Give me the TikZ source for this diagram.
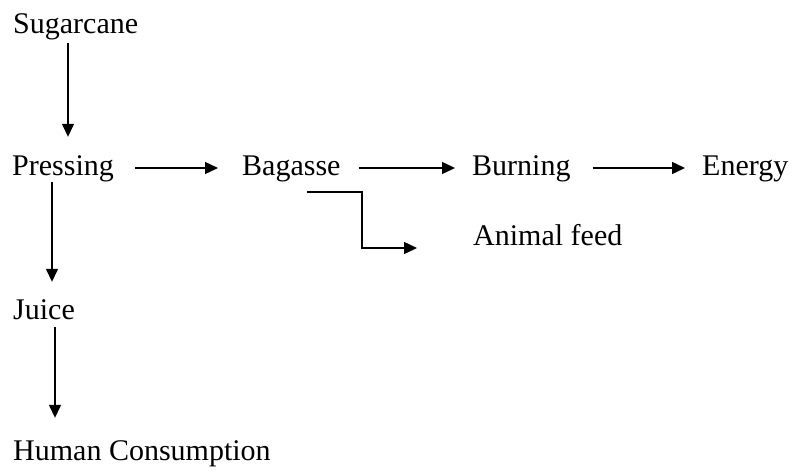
\documentclass[tikz,border=0pt]{standalone}
\usepackage{fontspec}
\setmainfont{Liberation Serif}
\usetikzlibrary{arrows.meta}
\begin{document}
\begin{tikzpicture}[x=1pt,y=-1pt,
  lbl/.style={anchor=base west,inner sep=0pt,text height=20pt,text depth=7pt,
    font=\fontsize{30}{36}\selectfont},
  arr/.style={line width=1.4pt,-{Triangle[length=13pt,width=12pt]}}]
\useasboundingbox (0,0) rectangle (792,471);
\node[lbl] (sugar) at (13,33) {Sugarcane};
\node[lbl] (press) at (12,175) {Pressing};
\node[lbl] (bag) at (242,175) {Bagasse};
\node[lbl] (burn) at (472,175) {Burning};
\node[lbl] (energy) at (702,175) {Energy};
\node[lbl] (feed) at (473,245) {Animal feed};
\node[lbl] (juice) at (13,319) {Juice};
\node[lbl] (human) at (13,460) {Human Consumption};
\coordinate (bagout) at ([xshift=65pt,yshift=-17pt]bag.base west);
\coordinate (feedin) at ([xshift=-56pt,yshift=-3pt]feed.base west);
\draw[arr,shorten <=3pt,shorten >=18pt] ([xshift=55pt]sugar.south west) -- ([xshift=55pt]sugar.south west |- press.north);
\draw[arr,shorten <=21pt,shorten >=24pt] ([yshift=7pt]press.base east) -- ([yshift=7pt]bag.base west);
\draw[arr,shorten <=18pt,shorten >=17pt] ([yshift=7pt]bag.base east) -- ([yshift=7pt]burn.base west);
\draw[arr,shorten <=22pt,shorten >=17pt] ([yshift=7pt]burn.base east) -- ([yshift=7pt]energy.base west);
\draw[arr] (bagout) -| ([xshift=-55pt]feedin) -- (feedin);
\draw[arr,shorten >=17pt] ([xshift=40pt]press.south west) -- ([xshift=40pt]press.south west |- juice.north);
\draw[arr,shorten <=1pt,shorten >=22pt] ([xshift=42pt]juice.south west) -- ([xshift=42pt]juice.south west |- human.north);
\end{tikzpicture}
\end{document}
